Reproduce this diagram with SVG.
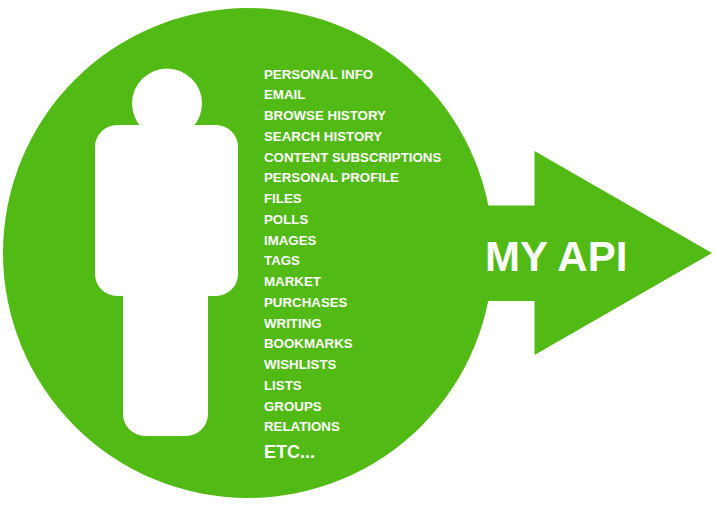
<svg xmlns="http://www.w3.org/2000/svg" width="715" height="506" viewBox="0 0 715 506">
<style>
.g{fill:#52ba14}
.w{fill:#fff}
text{font-family:"Liberation Sans",Arial,sans-serif;font-weight:700;fill:#fff}
.i{font-size:13.3px}
</style>
<rect width="715" height="506" fill="#fff"/>
<g id="api-arrow"><path class="g" d="M470 205.500H534.500V151L712 253L534.500 355V301H470Z"/></g>
<g id="circle"><circle class="g" cx="248" cy="253" r="245"/></g>
<g id="person">
<circle class="w" cx="167" cy="103.500" r="35"/>
<path class="w" d="M117 125H216A22 22 0 0 1 238 147V274A22 22 0 0 1 216 296H208V414A22 22 0 0 1 186 436H145A22 22 0 0 1 123 414V296H117A22 22 0 0 1 95 274V147A22 22 0 0 1 117 125Z"/>
</g>
<g id="data-list">
<text class="i" x="264" y="78.600">PERSONAL INFO</text>
<text class="i" x="264" y="99.300">EMAIL</text>
<text class="i" x="264" y="120">BROWSE HISTORY</text>
<text class="i" x="264" y="140.700">SEARCH HISTORY</text>
<text class="i" x="264" y="161.500">CONTENT SUBSCRIPTIONS</text>
<text class="i" x="264" y="182.300">PERSONAL PROFILE</text>
<text class="i" x="264" y="203">FILES</text>
<text class="i" x="264" y="223.800">POLLS</text>
<text class="i" x="264" y="244.500">IMAGES</text>
<text class="i" x="264" y="265.300">TAGS</text>
<text class="i" x="264" y="286">MARKET</text>
<text class="i" x="264" y="306.800">PURCHASES</text>
<text class="i" x="264" y="327.500">WRITING</text>
<text class="i" x="264" y="348.300">BOOKMARKS</text>
<text class="i" x="264" y="369">WISHLISTS</text>
<text class="i" x="264" y="389.800">LISTS</text>
<text class="i" x="264" y="410.500">GROUPS</text>
<text class="i" x="264" y="431.300">RELATIONS</text>
<text x="264" y="458" font-size="18">ETC...</text>
</g>
<text id="api-label" x="485" y="270.500" font-size="42">MY API</text>
</svg>
